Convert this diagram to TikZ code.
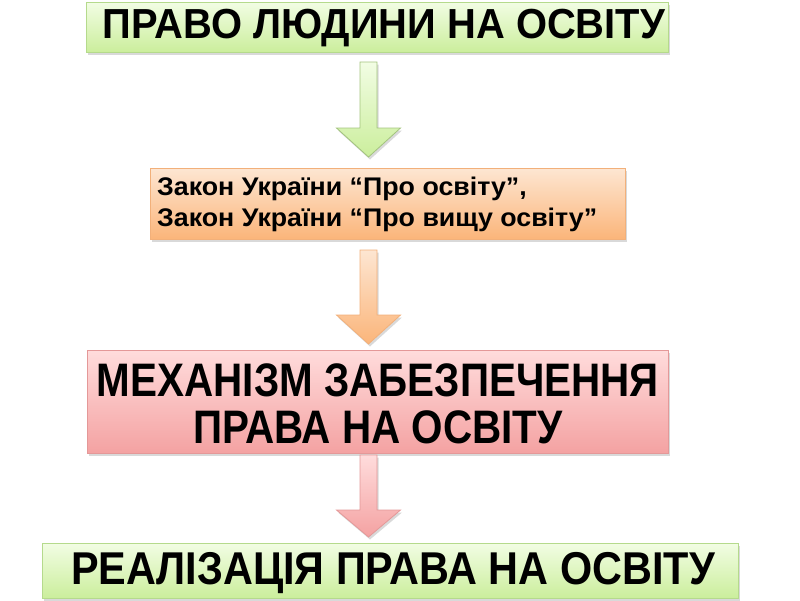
\documentclass[tikz,border=0pt]{standalone}
\usepackage{fontspec}
\setmainfont{Liberation Sans}
\newfontfamily\fa[FakeStretch=0.95]{Liberation Sans}
\newfontfamily\fb[FakeStretch=1.05]{Liberation Sans}
\newfontfamily\fc[FakeStretch=0.86]{Liberation Sans}
\newfontfamily\fd[FakeStretch=0.9]{Liberation Sans}
\usetikzlibrary{shadows,calc}
\definecolor{gtop}{HTML}{F2FDE4}
\definecolor{gbot}{HTML}{CBEE9C}
\definecolor{gline}{HTML}{B5DA8C}
\definecolor{otop}{HTML}{FDE6D2}
\definecolor{obot}{HTML}{FBB57A}
\definecolor{oline}{HTML}{F2B07A}
\definecolor{ptop}{HTML}{FFDCDC}
\definecolor{pbot}{HTML}{F4A2A2}
\definecolor{pline}{HTML}{E49898}
\tikzset{
  softshadow/.style={drop shadow={shadow xshift=1.5pt,shadow yshift=-2.5pt,opacity=0.25,fill=black!60}},
  greenbox/.style={draw=gline,line width=1pt,top color=gtop,bottom color=gbot,softshadow,inner sep=0pt},
  orangebox/.style={draw=oline,line width=1pt,top color=otop,bottom color=obot,softshadow,inner sep=0pt},
  pinkbox/.style={draw=pline,line width=1pt,top color=ptop,bottom color=pbot,softshadow,inner sep=0pt},
  greenarrow/.style={draw=gline!90!black,line width=0.8pt,top color=gtop,bottom color=gbot,line join=miter,softshadow},
  orangearrow/.style={draw=oline,line width=0.8pt,top color=otop,bottom color=obot,line join=miter,softshadow},
  pinkarrow/.style={draw=pline,line width=0.8pt,top color=ptop,bottom color=pbot,line join=miter,softshadow},
  bigtext/.style={align=center,text=black,inner sep=0pt},
}
\begin{document}
\begin{tikzpicture}[x=1pt,y=-1pt]
\useasboundingbox (0,0) rectangle (800,600);
% boxes
\node[greenbox,minimum width=582pt,minimum height=50pt] (b1) at (377,27) {};
\node[bigtext,font=\fa\bfseries\fontsize{42}{44}\selectfont] (t1) at (384,28.5) {ПРАВО ЛЮДИНИ НА ОСВІТУ};

\node[orangebox,minimum width=475pt,minimum height=71pt] (b2) at (387.5,203.5) {};
\node[anchor=west,align=left,font=\fb\bfseries\fontsize{25.5}{31}\selectfont,inner sep=0pt] (t2) at (157,204)
  {Закон України “Про освіту”,\\Закон України “Про вищу освіту”};

\node[pinkbox,minimum width=581pt,minimum height=103pt] (b3) at (377.5,401.5) {};
\node[bigtext,font=\fc\bfseries\fontsize{47}{47}\selectfont] (t3) at (378,404) {МЕХАНІЗМ ЗАБЕЗПЕЧЕННЯ\\ПРАВА НА ОСВІТУ};

\node[greenbox,minimum width=696pt,minimum height=55pt] (b4) at (390,570.5) {};
\node[bigtext,font=\fd\bfseries\fontsize{46}{48}\selectfont] (t4) at (393,573) {РЕАЛІЗАЦІЯ ПРАВА НА ОСВІТУ};

% block arrows
\newcommand{\blockarr}[5]{% style, x center, y top, y head base, y tip
  \path[#1] (#2-8.5,#3) -- (#2+8.5,#3) -- (#2+8.5,#4) -- (#2+32,#4) -- (#2,#5)
    -- (#2-32,#4) -- (#2-8.5,#4) -- cycle;}
\coordinate (a1s) at (368.5,62);
\coordinate (a1e) at (368.5,157);
\blockarr{greenarrow}{368.5}{62}{128}{157}
\coordinate (a2s) at (368.5,250);
\coordinate (a2e) at (368.5,344);
\blockarr{orangearrow}{368.5}{250}{315}{344}
\coordinate (a3s) at (368.5,455);
\coordinate (a3e) at (368.5,537);
\blockarr{pinkarrow}{368.5}{455}{510}{537}
\end{tikzpicture}
\end{document}
